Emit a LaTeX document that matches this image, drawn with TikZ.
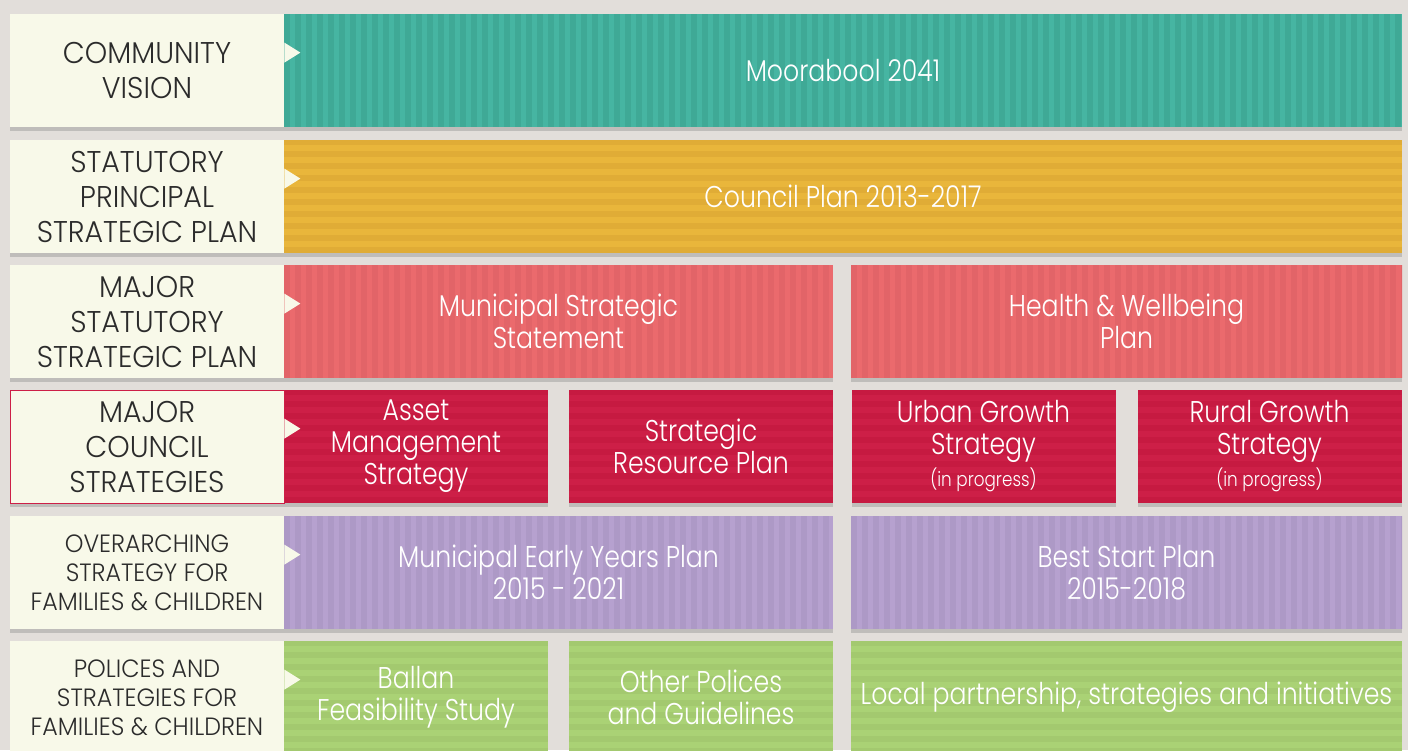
\documentclass[tikz,border=0pt]{standalone}
\usepackage{fontspec}
\setmainfont{Poppins Light}[FakeStretch=0.84]
\newfontfamily\labelfont{Poppins Light}[FakeStretch=0.95]
\usetikzlibrary{shadows}
\definecolor{backdrop}{HTML}{E2DEDA}
\definecolor{cream}{HTML}{F8F9E9}
\definecolor{labtext}{HTML}{2B2B2B}
\definecolor{teal}{HTML}{46B5A2}
\definecolor{tealdark}{HTML}{3FA996}
\definecolor{gold}{HTML}{E9B63B}
\definecolor{golddark}{HTML}{E0AC36}
\definecolor{salmon}{HTML}{EB6A6D}
\definecolor{salmondark}{HTML}{E26468}
\definecolor{crimson}{HTML}{CD1F47}
\definecolor{crimsondark}{HTML}{C61A41}
\definecolor{lavender}{HTML}{B6A1CF}
\definecolor{lavenderdark}{HTML}{AD99C6}
\definecolor{leaf}{HTML}{AAD275}
\definecolor{leafdark}{HTML}{A3C96F}
\begin{document}
\begin{tikzpicture}[x=1pt,y=-1pt]
		\def\rowh{56.5pt}
		\tikzstyle{boxshadow}=[drop shadow={shadow xshift=0pt,shadow yshift=-2pt,opacity=0.35}]
		\tikzstyle{rowlabel}=[boxshadow,fill=cream,minimum width=137pt,minimum height=\rowh,inner sep=0pt,align=center,text=labtext,font=\labelfont\fontsize{15}{17.5}\selectfont]
		\tikzstyle{smalllabel}=[rowlabel,font=\labelfont\fontsize{12.5}{14.5}\selectfont]
		\tikzstyle{plan}=[boxshadow,minimum height=\rowh,inner sep=0pt,align=center,text=white,font=\fontsize{15}{16}\selectfont]
		\tikzstyle{vstripes}=[path picture={\foreach \i in {0,...,110}
			\fill[#1] ([xshift=\i*5.5pt]path picture bounding box.south west) rectangle ([xshift=\i*5.5pt+2.75pt]path picture bounding box.north west);}]
		\tikzstyle{hstripes}=[path picture={\foreach \i in {0,...,12}
			\fill[#1] ([yshift=\i*6pt]path picture bounding box.south west) rectangle ([yshift=\i*6pt+3pt]path picture bounding box.south east);}]
		\tikzstyle{full}=[plan,minimum width=559pt]
		\tikzstyle{half}=[plan,minimum width=274.5pt]
		\tikzstyle{quarter}=[plan,minimum width=132pt]
		\useasboundingbox[fill=backdrop] (0,0) rectangle (704,375);
		
		\node[full,fill=teal,vstripes=tealdark](vision) at (421.5,35.25) {Moorabool 2041};
		\node[full,fill=gold,hstripes=golddark](council) at (421.5,98.25) {Council Plan 2013-2017};
		
		\node[half,fill=salmon,vstripes=salmondark](mss) at (279.25,160.75) {Municipal Strategic\\Statement};
		\node[half,fill=salmon,vstripes=salmondark,minimum width=275.5pt](health) at (563.25,160.75) {Health \& Wellbeing\\Plan};
		
		\node[quarter,fill=crimson,hstripes=crimsondark](asset) at (208,223.25) {Asset\\Management\\Strategy};
		\node[quarter,fill=crimson,hstripes=crimsondark](resource) at (350.5,223.25) {Strategic\\Resource Plan};
		\node[quarter,fill=crimson,hstripes=crimsondark](urban) at (491.75,223.25) {Urban Growth\\Strategy\\{\fontsize{10}{12}\selectfont (in progress)}};
		\node[quarter,fill=crimson,hstripes=crimsondark](rural) at (634.75,223.25) {Rural Growth\\Strategy\\{\fontsize{10}{12}\selectfont (in progress)}};
		
		\node[half,fill=lavender,vstripes=lavenderdark](early) at (279.25,286.25) {Municipal Early Years Plan\\2015 - 2021};
		\node[half,fill=lavender,vstripes=lavenderdark,minimum width=275.5pt](start) at (563.25,286.25) {Best Start Plan\\2015-2018};
		
		\node[quarter,fill=leaf,hstripes=leafdark](ballan) at (208,348.75) {Ballan\\Feasibility Study};
		\node[quarter,fill=leaf,hstripes=leafdark](other) at (350.5,348.75) {Other Polices\\and Guidelines};
		\node[half,fill=leaf,hstripes=leafdark,minimum width=275.5pt](local) at (563.25,348.75) {Local partnership, strategies and initiatives};
		
		\node[rowlabel](l1) at (73.5,35.25) {COMMUNITY\\VISION};
		\node[rowlabel](l2) at (73.5,98.25) {STATUTORY\\PRINCIPAL\\STRATEGIC PLAN};
		\node[rowlabel](l3) at (73.5,160.75) {MAJOR\\STATUTORY\\STRATEGIC PLAN};
		\node[rowlabel,draw=crimson,line width=0.4pt](l4) at (73.5,223.25) {MAJOR\\COUNCIL\\STRATEGIES};
		\node[smalllabel](l5) at (73.5,286.25) {OVERARCHING\\STRATEGY FOR\\FAMILIES \& CHILDREN};
		\node[smalllabel](l6) at (73.5,348.75) {POLICES AND\\STRATEGIES FOR\\FAMILIES \& CHILDREN};
		
		\foreach \n in {1,...,6}
		\fill[cream] ([yshift=-14.5pt]l\n.north east) -- ([xshift=8pt,yshift=-19.5pt]l\n.north east) -- ([yshift=-24.5pt]l\n.north east) -- cycle;
\end{tikzpicture}
\end{document}
